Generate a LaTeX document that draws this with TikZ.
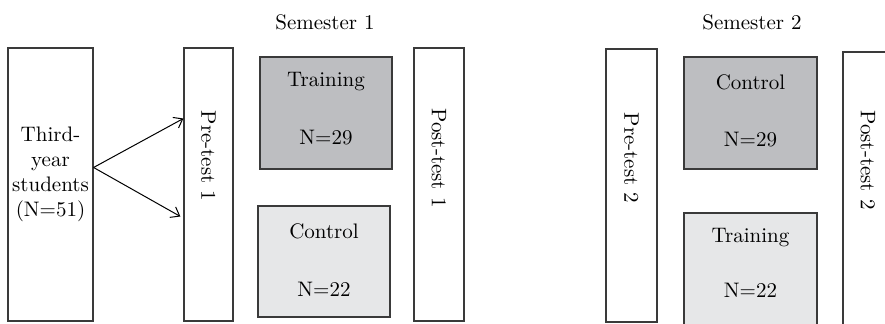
\documentclass[tikz,border=0pt]{standalone}
\usepackage{tikz}
\usetikzlibrary{arrows.meta}
\definecolor{linegray}{HTML}{3A3A3A}
\definecolor{darkfill}{HTML}{BDBEC1}
\definecolor{lightfill}{HTML}{E6E7E8}
\tikzset{
	box/.style={
		draw = linegray,
		line width = 0.6pt,
		inner sep = 0pt,
		shape = rectangle
	},
	tall/.style={
		box,
		minimum height = 136.5pt
	},
	darkbox/.style={
		box,
		fill = darkfill,
		minimum width = 66pt,
		minimum height = 56pt
	},
	lightbox/.style={
		box,
		fill = lightfill,
		minimum width = 66pt
	},
	vlabel/.style={
		rotate = -90,
		inner sep = 0pt
	},
	lbl/.style={
		inner sep = 0pt
	},
}
\tikzset{>={Straight Barb[length=4pt,width=6pt]}}

\begin{document}
\begin{tikzpicture}[x=0.5pt, y=-0.5pt, font=\fontsize{10.5}{12.5}\selectfont]
    \useasboundingbox (0,0) rectangle (885,324);
    \clip (0,0) rectangle (885,324);
    % group headings
    \node[lbl] (sem1) at (325,22) {Semester 1};
    \node[lbl] (sem2) at (752,22) {Semester 2};
    % students
    \node[tall, minimum width=42.5pt] (third) at (50.5,184.5) {};
    \node[lbl, align=center] (thirdt) at (50.5,174) {Third-\\year\\students\\(N=51)};
    % semester 1
    \node[tall, minimum width=24.5pt] (pre1) at (208.5,184.5) {};
    \node[vlabel] (pre1t) at (208.5,156) {Pre-test 1};
    \node[darkbox] (train1) at (326,113) {};
    \node[lbl] (train1t) at (326,82) {Training};
    \node[lbl] (train1n) at (326,138) {N=29};
    \node[lightbox, minimum height=55.5pt] (ctrl1) at (324,261.5) {};
    \node[lbl] (ctrl1t) at (324,231) {Control};
    \node[lbl] (ctrl1n) at (324,289) {N=22};
    \node[tall, minimum width=25pt] (post1) at (439,184.5) {};
    \node[vlabel] (post1t) at (439,158) {Post-test 1};
    % semester 2
    \node[tall, minimum width=25.5pt] (pre2) at (631.5,185.5) {};
    \node[vlabel] (pre2t) at (631.5,158) {Pre-test 2};
    \node[darkbox, minimum width=66.5pt] (ctrl2) at (750.5,113) {};
    \node[lbl] (ctrl2t) at (750.5,82) {Control};
    \node[lbl] (ctrl2n) at (750.5,140) {N=29};
    \node[lightbox, minimum width=66.5pt, minimum height=61pt] (train2) at (750.5,274) {};
    \node[lbl] (train2t) at (750.5,238) {Training};
    \node[lbl] (train2n) at (750.5,290) {N=22};
    \node[box, minimum width=25pt, minimum height=144pt] (post2) at (868,196) {};
    \node[vlabel] (post2t) at (868,160) {Post-test 2};
    % split into groups
    \draw[->, line width=0.5pt] ([yshift=8.5pt]third.east) -- ([yshift=33pt]pre1.west);
    \draw[->, line width=0.5pt] ([yshift=8.5pt]third.east) -- ([xshift=-1.5pt,yshift=-16pt]pre1.west);
\end{tikzpicture}
\end{document}
